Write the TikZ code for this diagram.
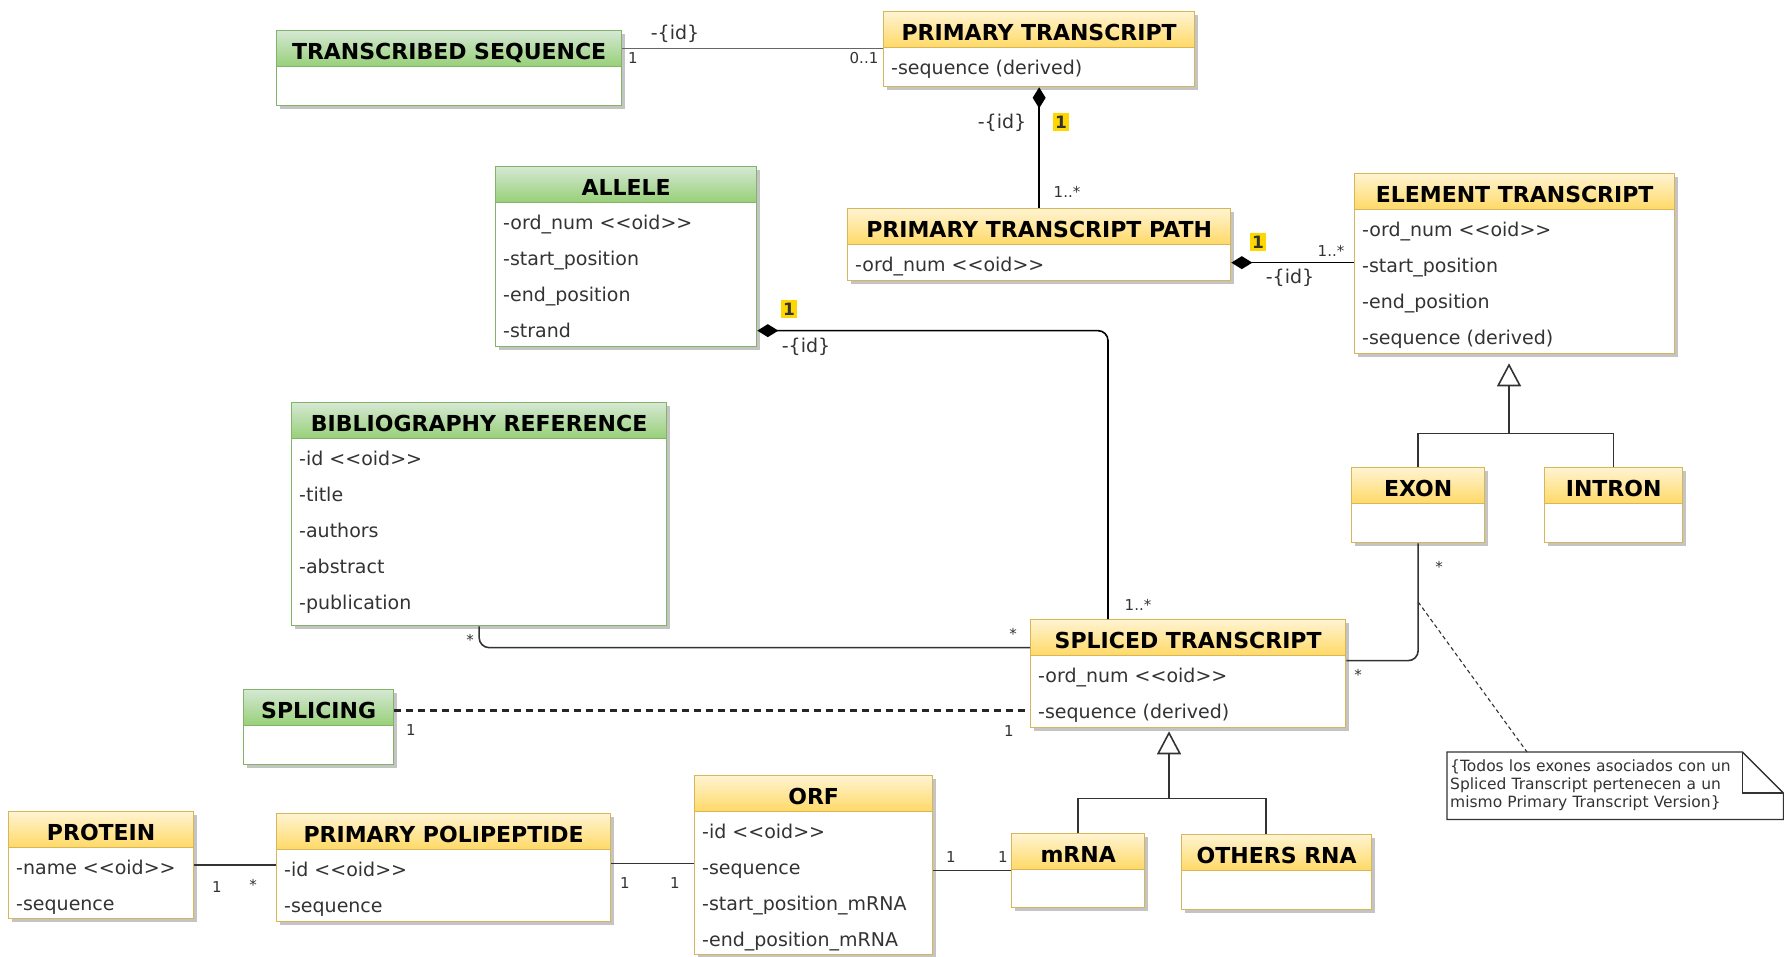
\documentclass[tikz,border=0pt]{standalone}
\usepackage{fontspec}
\setmainfont{DejaVu Sans}
\usetikzlibrary{arrows.meta,calc,backgrounds}

% colour schemes of the class boxes
\definecolor{yline}{HTML}{D6B656}
\definecolor{ytop}{HTML}{FFF4D2}
\definecolor{ybot}{HTML}{FFD966}
\definecolor{gline}{HTML}{82B366}
\definecolor{gtop}{HTML}{D5E8D4}
\definecolor{gbot}{HTML}{97D077}
\definecolor{ink}{HTML}{333333}
\definecolor{markfill}{HTML}{FFD700}
\definecolor{boxshade}{HTML}{C4C4C4}

\newcommand{\umlHead}{\fontsize{22}{26}\selectfont\bfseries}
\newcommand{\umlAttr}{\fontsize{19}{23}\selectfont}
\newcommand{\umlMult}{\fontsize{15}{18}\selectfont}
\newcommand{\umlNote}{\fontsize{15.5}{18}\selectfont}
% the kerns keep the two angle brackets from merging into a guillemet
\newcommand{\umlOid}{\textless\kern0pt\textless oid\textgreater\kern0pt\textgreater}

% #1 name, #2 scheme (y/g), #3 left, #4 top, #5 width, #6 height, #7 title, #8 attributes
\newcommand{\umlclass}[8]{%
  \fill[boxshade] (#3+4,#4+4) rectangle ++(#5,#6);
  \node[classbody=#2, minimum width=#5pt, minimum height=#6pt, anchor=north west] (#1) at (#3,#4) {};
  \node[classhead=#2, minimum width=#5pt, anchor=north west] (#1-head) at (#3,#4) {#7};
  \if\relax\detokenize{#8}\relax\else
    \foreach \a [count=\i from 0] in {#8} {%
      \node[attr, anchor=mid west] (#1-a\i) at (#3+8,#4+60.5+36*\i) {\a};}%
  \fi
}

\begin{document}
\begin{tikzpicture}[x=1pt,y=-1pt,
  classhead/.style={draw=#1line, top color=#1top, bottom color=#1bot, line width=1.3pt,
    minimum height=36pt, inner sep=0pt, font=\umlHead, text=black, text height=21pt, text depth=0pt},
  classbody/.style={draw=#1line, fill=white, line width=1.3pt, inner sep=0pt},
  attr/.style={font=\umlAttr, text=ink, inner sep=0pt},
  lab/.style={font=\umlAttr, text=ink, inner sep=0pt},
  mult/.style={font=\umlMult, text=ink, inner sep=0pt},
  hl/.style={font=\fontsize{17}{19}\selectfont\bfseries, text=ink, fill=markfill, inner xsep=1.8pt, inner ysep=2.8pt},
  assoc/.style={line width=1.6pt, draw=black!80},
  compo/.style={line width=1.6pt, draw=black, {Diamond[length=21pt,width=13pt]}-},
  tree/.style={line width=1.6pt, draw=black!80},
  gentip/.style={-{Triangle[open,length=23pt,width=24pt]}},
  dashlink/.style={line width=2.6pt, draw=black!85, dash pattern=on 7pt off 5pt},
  notelink/.style={line width=1.1pt, draw=black!80, dash pattern=on 4pt off 3pt},
  notebox/.style={font=\umlNote, text=ink, inner xsep=3pt, inner ysep=0pt, align=left},
]
\begin{pgfonlayer}{background}
  \fill[white] (0,0) rectangle (1784,956);
\end{pgfonlayer}
\useasboundingbox (0,0) rectangle (1784,956);

% ---------- classes ----------
\umlclass{ts}{g}{276}{30}{345}{75}{TRANSCRIBED SEQUENCE}{}
\umlclass{pt}{y}{883}{11}{311}{75}{PRIMARY TRANSCRIPT}{-sequence (derived)}
\umlclass{allele}{g}{495}{166}{261}{180}{ALLELE}{-ord\_num \umlOid, -start\_position, -end\_position, -strand}
\umlclass{ptp}{y}{847}{208}{383}{72}{PRIMARY TRANSCRIPT PATH}{-ord\_num \umlOid}
\umlclass{et}{y}{1354}{173}{320}{180}{ELEMENT TRANSCRIPT}{-ord\_num \umlOid, -start\_position, -end\_position, -sequence (derived)}
\umlclass{bib}{g}{291}{402}{375}{223}{BIBLIOGRAPHY REFERENCE}{-id \umlOid, -title, -authors, -abstract, -publication}
\umlclass{exon}{y}{1351}{467}{133}{75}{EXON}{}
\umlclass{intron}{y}{1544}{467}{138}{75}{INTRON}{}
\umlclass{st}{y}{1030}{619}{315}{108}{SPLICED TRANSCRIPT}{-ord\_num \umlOid, -sequence (derived)}
\umlclass{splicing}{g}{243}{689}{150}{75}{SPLICING}{}
\umlclass{orf}{y}{694}{775}{238}{179}{ORF}{-id \umlOid, -sequence, -start\_position\_mRNA, -end\_position\_mRNA}
\umlclass{protein}{y}{8}{811}{185}{107}{PROTEIN}{-name \umlOid, -sequence}
\umlclass{pp}{y}{276}{813}{334}{108}{PRIMARY POLIPEPTIDE}{-id \umlOid, -sequence}
\umlclass{mrna}{y}{1011}{833}{133}{74}{mRNA}{}
\umlclass{others}{y}{1181}{834}{190}{75}{OTHERS RNA}{}

% ---------- constraint note (folded corner drawn behind its text) ----------
\node[notebox, anchor=north west, minimum width=336pt, minimum height=67pt, text width=330pt] (note) at (1447,752)
  {\{Todos los exones asociados con un\\Spliced Transcript pertenecen a un\\mismo Primary Transcript Version\}};
\begin{pgfonlayer}{background}
  \fill[boxshade, shift={(4pt,-4pt)}]
    (note.south west) -- (note.north west) -- ([xshift=-41pt]note.north east)
    -- ([yshift=-41pt]note.north east) -- (note.south east) -- cycle;
  \draw[line width=1.3pt, draw=black!80, fill=white]
    (note.south west) -- (note.north west) -- ([xshift=-41pt]note.north east)
    -- ([yshift=-41pt]note.north east) -- (note.south east) -- cycle;
  \draw[line width=1.3pt, draw=black!80] ([xshift=-41pt]note.north east) |- ([yshift=-41pt]note.north east);
\end{pgfonlayer}

% ---------- associations ----------
\draw[assoc, draw=black!60] (ts-head.east) -- (ts-head.east -| pt.west);
\node[lab] (l-tspt) at (675,34) {-\{id\}};
\node[mult] (m-ts) at (633,58) {1};
\node[mult] (m-pt) at (864,58) {0..1};

\draw[compo] (pt.south) -- (ptp.north);
\node[lab] (l-ptptp) at (1002,123) {-\{id\}};
\node[hl] (m-pt2) at (1061,122) {1};
\node[mult] (m-ptp) at (1067,192) {1..*};

\draw[compo] ([yshift=-18pt]ptp.east) coordinate (ptpe) -- (ptpe -| et.west);
\node[hl] (m-ptp2) at (1258,242) {1};
\node[mult] (m-et) at (1331,251) {1..*};
\node[lab] (l-ptpet) at (1290,278) {-\{id\}};

\draw[compo, rounded corners=10pt] ([yshift=-74pt]allele.east) -| ([xshift=78pt]st.north west);
\node[hl] (m-allele) at (789,309) {1};
\node[lab] (l-allele) at (806,347) {-\{id\}};
\node[mult] (m-st1) at (1138,605) {1..*};

\draw[assoc, rounded corners=10pt] (bib.south) |- ([yshift=26pt]st.west);
\node[mult] (m-bib) at (470,640) {*};
\node[mult] (m-st2) at (1013,634) {*};

\draw[assoc, rounded corners=10pt] ([yshift=13pt]st.east) -| coordinate[pos=0.75] (stex) (exon.south);
\node[mult] (m-st3) at (1358,675) {*};
\node[mult] (m-exon) at (1439,567) {*};
\draw[notelink] (stex) -- ([xshift=80pt]note.north west);

\draw[dashlink] ([yshift=-3pt]splicing-head.east) coordinate (sple) -- (sple -| st.west);
\node[mult] (m-spl) at (411,730) {1};
\node[mult] (m-st4) at (1009,731) {1};

\draw[assoc] (protein.east) -- (protein.east -| pp.west);
\node[mult] (m-prot) at (217,887) {1};
\node[mult] (m-pp1) at (253,885) {*};

\draw[assoc] ([yshift=4pt]pp.east) coordinate (ppe) -- (ppe -| orf.west);
\node[mult] (m-pp2) at (625,883) {1};
\node[mult] (m-orf1) at (675,883) {1};

\draw[assoc] (orf.east |- mrna.west) -- (mrna.west);
\node[mult] (m-orf2) at (951,857) {1};
\node[mult] (m-mrna) at (1003,857) {1};

% ---------- generalizations ----------
\coordinate (etg) at ([xshift=155pt,yshift=-9pt]et.south west);
\coordinate (etj) at ([yshift=-70pt]etg);
\draw[tree] (exon.north) |- (etj);
\draw[tree] (intron.north) |- (etj);
\draw[tree, gentip] (etj) -- (etg);

\coordinate (stg) at ([xshift=139pt,yshift=-3pt]st.south west);
\coordinate (stj) at ([yshift=-67pt]stg);
\draw[tree] (mrna.north) |- (stj);
\draw[tree] ([xshift=85pt]others.north west) |- (stj);
\draw[tree, gentip] (stj) -- (stg);
\end{tikzpicture}
\end{document}
